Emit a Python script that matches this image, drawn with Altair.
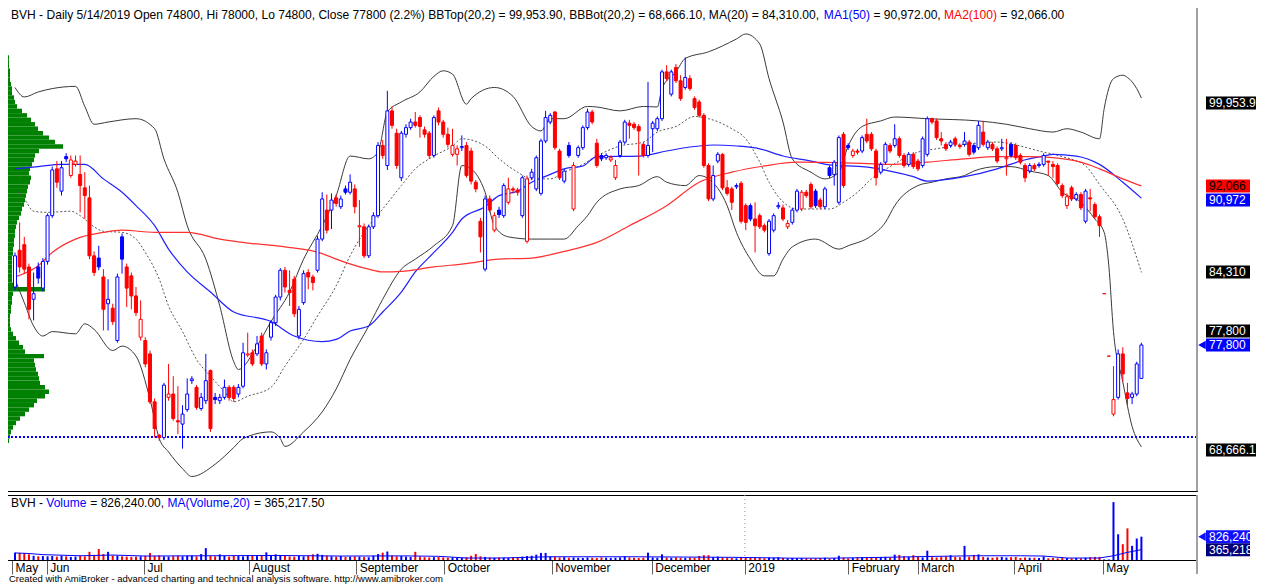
import altair as alt
import pandas as pd

# ---------------- price data (thousand VND), one bar per trading day ----------------
open_ = [83.0, 86.3, 86.8, 84.8, 81.9, 84.8, 82.9, 85.3, 89.4, 93.6,
         91.6, 94.7, 93.0, 94.0, 93.1, 91.9, 91.0, 85.8, 85.6, 83.9,
         81.5, 81.1, 78.2, 87.5, 84.8, 84.0, 82.2, 78.5, 78.2, 77.0,
         72.7, 69.7, 69.5, 73.1, 73.4, 71.0, 70.7, 72.0, 74.6, 74.0,
         72.1, 72.8, 75.5, 73.1, 72.8, 73.1, 74.0, 74.0, 73.4, 74.1,
         76.9, 77.1, 77.0, 78.6, 76.1, 78.5, 79.8, 82.1, 84.5, 82.7,
         83.7, 78.6, 81.6, 84.3, 83.9, 84.5, 87.3, 89.9, 89.9, 91.0,
         90.2, 91.8, 91.5, 91.8, 88.4, 88.4, 85.8, 88.4, 89.4, 95.7,
         93.9, 98.8, 96.8, 92.8, 96.7, 97.3, 97.8, 98.2, 97.1, 96.8,
         94.8, 98.8, 97.8, 96.7, 94.9, 94.9, 95.5, 95.7, 95.2, 92.4,
         88.9, 84.6, 90.9, 88.1, 89.9, 89.4, 90.6, 91.8, 91.7, 89.4,
         87.1, 92.8, 91.8, 91.4, 96.1, 97.8, 98.7, 95.2, 92.5, 95.7,
         90.0, 94.8, 95.5, 97.3, 98.7, 95.9, 94.8, 94.6, 94.4, 92.8,
         94.8, 96.0, 97.7, 97.6, 97.4, 95.8, 94.8, 97.2, 97.2, 98.1,
         102.3, 100.3, 102.7, 101.5, 100.9, 101.7, 99.9, 99.6, 98.4, 93.9,
         90.9, 94.3, 94.9, 91.9, 91.8, 92.0, 92.3, 90.3, 90.3, 89.1,
         89.4, 88.5, 86.0, 88.1, 90.2, 90.1, 88.4, 88.8, 89.9, 90.0,
         91.5, 92.2, 91.6, 90.8, 90.2, 93.7, 93.1, 90.6, 96.7, 95.7,
         94.8, 95.2, 95.2, 96.7, 96.7, 95.2, 93.3, 94.2, 95.7, 95.7,
         96.3, 94.8, 94.0, 94.9, 94.3, 93.9, 94.9, 98.1, 97.9, 96.3,
         95.8, 95.7, 96.3, 95.7, 95.8, 96.0, 95.7, 95.5, 96.9, 95.5,
         95.8, 95.4, 95.4, 94.5, 95.8, 95.7, 94.8, 93.9, 93.4, 93.9,
         93.9, 94.0, 94.3, 94.0, 93.9, 92.1, 90.3, 91.9, 90.9, 91.3,
         88.9, 91.0, 90.4, 89.3, 82.4, 76.8, 71.6, 73.1, 77.0, 73.5,
         73.1, 73.4, 74.8]
high = [86.1, 88.8, 87.5, 85.1, 84.3, 85.2, 85.6, 89.6, 93.8, 94.3,
        94.3, 95.0, 94.8, 94.8, 94.8, 93.3, 92.1, 86.2, 86.7, 84.6,
        83.7, 81.5, 84.2, 87.8, 85.1, 84.3, 83.0, 81.8, 78.5, 77.3,
        73.0, 69.8, 74.4, 76.1, 75.0, 74.1, 72.4, 74.8, 75.0, 74.2,
        73.5, 77.0, 75.6, 73.5, 73.4, 74.7, 74.2, 74.2, 74.3, 78.0,
        78.9, 77.4, 78.6, 78.9, 77.4, 80.0, 82.3, 84.7, 84.8, 84.5,
        84.0, 81.3, 84.5, 84.6, 84.1, 87.6, 91.5, 91.3, 91.4, 91.3,
        91.2, 92.1, 93.1, 92.2, 90.8, 88.7, 88.6, 89.7, 96.0, 96.2,
        100.6, 99.2, 97.2, 97.0, 97.6, 98.1, 98.7, 98.4, 97.4, 97.0,
        98.4, 99.1, 98.0, 97.3, 97.2, 95.7, 96.6, 96.0, 95.5, 92.6,
        89.2, 91.2, 91.2, 89.7, 90.2, 92.3, 92.8, 92.0, 91.9, 93.0,
        93.0, 93.6, 94.8, 96.3, 98.8, 98.6, 98.8, 95.4, 93.6, 96.0,
        94.2, 95.7, 97.5, 99.0, 98.9, 96.3, 95.0, 95.0, 94.8, 94.4,
        96.2, 98.0, 98.0, 97.8, 97.6, 96.0, 101.4, 97.9, 98.3, 102.5,
        102.9, 102.5, 103.0, 102.0, 103.6, 102.0, 100.1, 99.8, 98.6, 94.1,
        93.9, 95.1, 95.0, 92.6, 92.0, 92.3, 92.5, 90.5, 90.5, 90.6,
        89.6, 88.7, 89.1, 89.6, 90.6, 90.4, 89.0, 90.1, 91.8, 91.7,
        91.7, 92.4, 91.8, 91.0, 92.0, 93.9, 94.4, 96.6, 96.9, 95.9,
        95.4, 95.4, 96.6, 98.1, 96.9, 95.4, 94.2, 96.0, 95.9, 97.6,
        96.5, 95.0, 95.1, 95.1, 94.5, 96.5, 98.3, 98.2, 98.1, 96.9,
        96.0, 96.2, 96.5, 95.9, 96.9, 96.2, 95.9, 97.9, 97.9, 96.2,
        96.0, 95.6, 96.3, 96.3, 96.0, 95.9, 95.0, 94.1, 94.1, 94.1,
        94.2, 95.0, 94.3, 94.3, 94.1, 92.3, 91.4, 92.1, 91.5, 91.5,
        91.8, 91.8, 90.6, 89.5, 82.4, 76.8, 75.9, 77.4, 77.6, 74.4,
        73.6, 76.3, 78.0]
low = [82.7, 84.3, 84.2, 80.1, 80.0, 83.3, 82.6, 85.0, 89.2, 91.9,
       91.2, 94.2, 92.8, 93.8, 89.7, 89.1, 85.5, 84.0, 84.5, 79.1,
       79.1, 79.6, 78.0, 84.2, 81.2, 81.0, 80.4, 78.2, 75.8, 72.5,
       69.5, 69.2, 69.3, 72.8, 71.0, 69.8, 68.5, 71.8, 74.3, 72.0,
       71.9, 72.5, 70.0, 72.5, 72.5, 72.9, 72.8, 72.7, 73.1, 73.9,
       76.7, 75.9, 76.8, 75.9, 75.6, 78.2, 79.5, 81.8, 82.5, 81.3,
       80.3, 78.3, 81.4, 82.8, 82.7, 84.3, 87.1, 87.8, 88.2, 90.2,
       90.0, 91.3, 91.3, 89.6, 86.6, 85.6, 85.6, 88.2, 89.2, 94.5,
       93.5, 97.2, 93.6, 92.5, 96.4, 97.1, 97.3, 96.4, 96.4, 94.5,
       94.6, 97.5, 96.4, 95.5, 94.7, 93.9, 95.2, 92.8, 92.2, 91.5,
       86.1, 84.4, 89.7, 87.9, 89.2, 89.2, 90.4, 91.4, 91.2, 89.2,
       86.9, 92.6, 91.6, 91.2, 95.9, 97.6, 95.3, 92.6, 92.3, 94.6,
       89.8, 94.6, 95.3, 97.1, 97.6, 93.7, 94.3, 94.4, 94.2, 92.6,
       94.6, 95.8, 96.3, 97.1, 93.0, 94.6, 94.6, 95.1, 97.0, 97.9,
       101.5, 100.1, 101.3, 99.7, 100.7, 100.6, 98.9, 98.2, 93.7, 90.7,
       90.7, 94.1, 91.7, 91.2, 89.9, 91.8, 88.7, 88.1, 88.9, 86.1,
       88.2, 87.9, 85.8, 87.9, 90.0, 88.9, 88.2, 88.6, 89.7, 89.8,
       91.0, 90.0, 90.1, 90.0, 90.0, 92.8, 92.1, 90.4, 91.9, 95.3,
       94.6, 94.9, 95.0, 95.9, 95.2, 92.1, 93.1, 94.0, 95.0, 95.5,
       94.6, 93.7, 93.8, 93.6, 93.4, 93.7, 94.7, 97.6, 96.2, 95.7,
       95.2, 95.5, 95.6, 95.4, 95.6, 94.7, 94.9, 95.3, 95.6, 95.3,
       95.2, 94.1, 95.2, 93.0, 94.6, 94.4, 94.0, 92.4, 93.2, 93.4,
       93.7, 93.8, 93.0, 92.8, 92.1, 91.0, 90.0, 90.7, 90.7, 89.9,
       88.7, 89.8, 89.1, 87.5, 82.4, 76.8, 71.4, 72.9, 74.5, 72.4,
       72.5, 73.2, 74.8]
close = [85.8, 84.8, 84.6, 81.0, 82.4, 83.8, 85.3, 89.4, 93.5, 92.4,
         93.7, 94.5, 94.4, 94.3, 92.1, 91.2, 85.8, 84.3, 84.8, 81.0,
         81.9, 79.9, 83.9, 85.5, 82.9, 82.2, 80.7, 80.1, 76.1, 72.7,
         70.3, 69.5, 74.2, 73.4, 71.2, 70.9, 71.6, 73.4, 74.75, 72.2,
         73.1, 74.6, 70.3, 72.9, 73.1, 74.0, 73.1, 73.0, 74.0, 77.1,
         77.0, 76.1, 77.9, 76.1, 77.1, 79.8, 82.1, 84.5, 83.0, 82.5,
         80.6, 81.0, 84.2, 83.9, 83.4, 87.3, 90.9, 88.1, 90.8, 90.5,
         90.9, 91.5, 92.4, 90.2, 88.5, 85.8, 88.4, 89.4, 95.7, 94.8,
         98.8, 97.5, 93.9, 96.8, 97.3, 97.8, 97.5, 97.4, 96.7, 94.8,
         98.2, 97.8, 96.7, 95.8, 95.7, 95.4, 95.6, 93.0, 92.5, 91.8,
         87.5, 90.9, 89.9, 89.4, 89.5, 92.1, 91.8, 91.7, 91.5, 92.8,
         92.7, 93.3, 94.6, 96.1, 98.2, 98.4, 95.5, 92.8, 93.4, 94.8,
         93.9, 95.5, 97.3, 98.7, 97.8, 93.9, 94.5, 94.8, 94.6, 93.9,
         96.0, 97.8, 97.5, 97.3, 97.0, 94.8, 95.7, 97.7, 98.1, 102.3,
         101.7, 102.3, 101.5, 99.9, 101.8, 100.8, 99.1, 98.4, 93.9, 90.9,
         93.0, 94.9, 91.9, 91.4, 90.6, 92.1, 88.9, 88.8, 89.1, 88.5,
         88.4, 88.1, 88.9, 89.4, 90.3, 89.1, 88.7, 89.9, 91.6, 91.5,
         91.2, 90.2, 90.3, 90.2, 91.8, 93.0, 94.2, 96.4, 92.1, 95.5,
         95.2, 95.1, 96.4, 96.1, 95.4, 92.8, 94.0, 95.8, 95.2, 96.3,
         94.8, 93.9, 94.9, 93.8, 93.6, 96.3, 98.1, 97.8, 96.4, 96.1,
         95.4, 96.0, 95.8, 95.6, 96.1, 94.9, 95.1, 97.5, 95.8, 96.0,
         95.4, 94.3, 95.5, 94.6, 94.8, 94.6, 94.2, 92.8, 93.9, 93.6,
         94.0, 94.8, 94.2, 93.8, 92.3, 91.2, 91.1, 90.9, 91.3, 90.1,
         91.6, 90.9, 89.3, 88.5, 82.4, 76.8, 72.9, 77.0, 75.2, 73.0,
         73.4, 76.1, 77.8]
# volume, thousand shares
volume = [260, 250, 240, 200, 150, 130, 140, 130, 140, 120,
          150, 130, 110, 120, 150, 130, 290, 180, 390, 210,
          290, 160, 150, 130, 120, 110, 120, 130, 150, 250,
          140, 160, 130, 120, 140, 150, 130, 150, 160, 130,
          210, 420, 150, 130, 200, 150, 120, 150, 140, 130,
          160, 150, 140, 160, 270, 180, 200, 160, 150, 130,
          120, 140, 130, 150, 200, 220, 180, 150, 130, 120,
          140, 110, 120, 130, 120, 110, 100, 150, 210, 260,
          300, 160, 130, 140, 120, 110, 290, 120, 100, 90,
          100, 110, 90, 80, 90, 80, 70, 100, 150, 210,
          130, 110, 90, 80, 90, 80, 70, 90, 80, 120,
          140, 150, 190, 250, 250, 120, 110, 90, 100, 80,
          90, 80, 70, 90, 80, 70, 90, 80, 70, 80,
          90, 130, 90, 80, 70, 80, 260, 90, 80, 200,
          90, 80, 90, 80, 70, 90, 80, 140, 170, 170,
          100, 120, 90, 80, 70, 60, 90, 80, 70, 90,
          80, 60, 90, 80, 100, 70, 60, 70, 60, 70,
          60, 50, 60, 70, 80, 60, 70, 150, 80, 60,
          70, 90, 100, 80, 70, 90, 100, 110, 90, 190,
          180, 130, 110, 170, 120, 90, 330, 100, 90, 120,
          130, 170, 110, 100, 500, 120, 180, 200, 110, 90,
          80, 100, 110, 90, 100, 110, 70, 90, 80, 80,
          70, 130, 60, 70, 60, 80, 70, 60, 70, 60,
          80, 100, 110, 110, 20, 20, 2050, 910, 560, 1120,
          500, 760, 826.24]

# ---------------- indicator lines ----------------
bb_top_i = [0, 2, 5, 8, 13, 15, 17, 20, 26, 30, 32, 35, 37, 41, 44, 47, 48, 52, 55, 59,
            62, 66, 69, 72, 76, 78, 80, 83, 87, 90, 92, 94, 97, 98, 103, 107, 111, 113, 115, 118,
            123, 125, 130, 135, 138, 139, 142, 144, 149, 155, 157, 160, 162, 165, 167, 171, 174, 177, 179, 182,
            186, 189, 196, 207, 213, 218, 223, 226, 229, 233, 234, 236, 238, 239, 241, 242]
bb_top_v = [100.9, 100.05, 100.5, 100.8, 101.0, 99.2, 97.6, 97.8, 98.1, 97.2, 94.5, 91.5, 88.5, 85.5, 81.3, 76.3, 75.6, 77.7, 79.9, 82.55,
            85.5, 88.5, 91.2, 94.75, 94.5, 95.1, 98.7, 99.6, 100.5, 101.9, 102.4, 102.1, 99.4, 99.9, 100.9, 100.1, 97.4, 97.0, 98.1, 98.1,
            99.2, 99.15, 98.8, 99.2, 99.15, 100.8, 102.3, 103.5, 104.1, 105.25, 105.7, 104.8, 101.7, 97.8, 94.5, 93.3, 92.7, 93.3, 95.65, 97.4,
            97.9, 98.25, 98.1, 97.9, 97.6, 97.2, 96.9, 97.2, 96.9, 96.3, 99.0, 101.7, 102.0, 101.8, 100.8, 99.9539]
bb_bot_i = [0, 2, 4, 6, 8, 13, 15, 17, 21, 23, 26, 29, 31, 33, 36, 38, 43, 47, 49, 55,
            57, 58, 62, 66, 69, 72, 76, 79, 83, 86, 90, 94, 96, 98, 101, 103, 106, 111, 115, 118,
            121, 123, 125, 130, 134, 138, 140, 144, 147, 149, 153, 155, 158, 161, 163, 165, 167, 172, 177, 179,
            184, 187, 189, 194, 197, 200, 204, 206, 211, 214, 218, 222, 225, 229, 232, 234, 235, 236, 238, 240, 242]
bb_bot_v = [83.7, 81.6, 79.5, 78.6, 79.0, 78.8, 79.7, 79.2, 77.3, 77.7, 76.8, 72.95, 69.4, 68.2, 66.7, 66.0, 67.1, 68.6, 69.4, 70.0,
            69.4, 68.7, 70.0, 71.8, 73.85, 76.5, 79.5, 81.9, 84.6, 85.5, 86.7, 88.5, 93.9, 93.6, 91.5, 88.5, 87.5, 87.3, 87.3, 87.3,
            88.5, 89.4, 90.6, 91.8, 92.1, 92.9, 92.4, 92.1, 93.0, 92.7, 90.3, 87.9, 85.5, 84.0, 84.0, 85.5, 86.6, 87.3, 86.4, 86.7,
            87.6, 88.8, 90.3, 92.1, 92.4, 92.7, 93.0, 93.4, 93.8, 93.8, 93.4, 93.0, 91.5, 90.6, 89.1, 87.9, 84.9, 79.0, 74.5, 70.5, 68.6661]
ma20_i = [0, 2, 4, 7, 12, 14, 17, 19, 23, 26, 28, 31, 33, 36, 39, 42, 45, 47, 50, 55,
          58, 62, 65, 69, 72, 76, 79, 83, 86, 90, 94, 96, 101, 104, 108, 111, 115, 118, 122, 125,
          130, 135, 138, 142, 146, 149, 154, 157, 160, 162, 166, 168, 172, 175, 178, 181, 184, 188, 194, 198,
          204, 211, 216, 220, 225, 230, 233, 238, 242]
ma20_v = [91.8, 90.9, 89.8, 89.7, 89.8, 89.4, 88.4, 88.0, 87.9, 87.3, 86.1, 83.7, 81.3, 79.0, 76.5, 75.0, 73.6, 72.7, 73.2, 74.0,
          75.9, 78.3, 80.4, 83.1, 85.8, 88.5, 90.0, 92.1, 93.6, 94.75, 95.65, 96.3, 95.65, 94.5, 93.3, 92.7, 92.7, 93.3, 94.0, 94.75,
          95.65, 96.0, 96.9, 97.4, 98.3, 98.1, 97.2, 96.3, 94.2, 92.4, 90.3, 90.0, 90.0, 90.0, 90.6, 91.5, 92.7, 93.8, 95.1, 95.4,
          95.8, 96.0, 95.65, 95.2, 94.7, 93.86, 92.2, 89.1, 84.31]
ma50_i = [0, 5, 10, 15, 19, 23, 26, 30, 33, 37, 42, 47, 55, 60, 66, 69, 72, 76, 79, 83,
          86, 90, 94, 96, 101, 104, 108, 111, 115, 118, 122, 125, 134, 140, 145, 150, 155, 160, 165, 171,
          175, 179, 182, 188, 193, 196, 204, 211, 216, 221, 223, 228, 233, 238, 242]
ma50_v = [93.6, 93.8, 94.0, 94.0, 92.7, 91.5, 90.3, 88.5, 86.4, 84.35, 82.55, 80.76, 79.9, 78.6, 78.1, 78.3, 79.05, 79.5, 80.76, 82.55,
          84.35, 86.1, 87.9, 89.1, 90.2, 91.2, 91.6, 92.4, 93.1, 93.6, 93.86, 94.7, 94.75, 95.2, 95.56, 95.74, 95.65, 95.4, 94.75, 94.3,
          93.95, 93.86, 93.8, 93.4, 92.9, 92.5, 92.9, 93.6, 94.3, 94.75, 94.9, 94.75, 94.0, 92.4, 90.972]
ma100_i = [0, 5, 8, 13, 19, 23, 30, 37, 44, 51, 58, 66, 69, 76, 79, 83, 90, 97, 104, 111,
           118, 125, 132, 140, 147, 154, 161, 168, 182, 189, 196, 204, 211, 218, 223, 229, 233, 238, 242]
ma100_v = [83.9, 84.9, 86.1, 87.3, 87.9, 88.1, 87.9, 87.9, 87.3, 86.9, 86.6, 86.0, 85.5, 84.6, 84.35, 84.4, 84.8, 85.1, 85.5, 85.6,
           86.2, 87.0, 88.5, 90.3, 92.4, 93.3, 93.86, 94.2, 94.1, 94.0, 94.2, 94.5, 94.7, 94.7, 94.6, 94.2, 93.6, 92.7, 92.066]
volma_i = [0, 3, 6, 14, 21, 28, 42, 56, 70, 84, 91, 97, 104, 115, 133, 154, 167, 175, 187, 194,
           206, 216, 221, 226, 233, 236, 239, 242]
volma_v = [250, 230, 190, 150, 175, 140, 150, 160, 140, 145, 130, 70, 70, 115, 115, 95, 65, 65, 95, 118,
           150, 150, 140, 70, 70, 150, 270, 365.2175]
support_level = [69.54]

# volume-at-price profile (price level, thousand shares)
vap_price = [104.0, 103.6, 103.2, 102.8, 102.4, 102.0, 101.6, 101.2, 100.8, 100.4,
             100.0, 99.6, 99.2, 98.8, 98.4, 98.0, 97.6, 97.2, 96.8, 96.4,
             96.0, 95.6, 95.2, 94.8, 94.4, 94.0, 93.6, 93.2, 92.8, 92.4,
             92.0, 91.6, 91.2, 90.8, 90.4, 90.0, 89.6, 89.2, 88.8, 88.4,
             88.0, 87.6, 87.2, 86.8, 86.4, 86.0, 85.6, 85.2, 84.8, 84.4,
             84.0, 83.6, 83.2, 82.8, 82.4, 82.0, 81.6, 81.2, 80.8, 80.4,
             80.0, 79.6, 79.2, 78.8, 78.4, 78.0, 77.6, 77.2, 76.8, 76.4,
             76.0, 75.6, 75.2, 74.8, 74.4, 74.0, 73.6, 73.2, 72.8, 72.4,
             72.0, 71.6, 71.2, 70.8, 70.4, 70.0, 69.6, 69.2, 68.8, 68.4]
vap_vol = [100, 200, 200, 200, 300, 300, 300, 400, 500, 500,
           700, 800, 1000, 1500, 2000, 2400, 2800, 3100, 3600, 4200,
           4800, 5600, 3200, 2800, 2700, 2500, 2300, 2200, 2400, 2300,
           2100, 2000, 1900, 1800, 1700, 1500, 1400, 1200, 1000, 900,
           800, 800, 700, 700, 600, 600, 500, 500, 500, 500,
           500, 500, 600, 3800, 600, 500, 500, 400, 400, 300,
           300, 300, 400, 600, 900, 1200, 1600, 1800, 3700, 2700,
           2800, 2900, 3100, 3200, 3300, 3800, 4200, 3800, 3000, 2700,
           2200, 1800, 1300, 900, 600, 400, 300, 200, 100, 100]

month_pos = [-0.64, 6.8, 27.7, 50.3, 73.3, 92.2, 115.3, 136.8, 156.8, 179.0, 193.9, 214.7, 233.7]
month_name = ['May', 'Jun', 'Jul', 'August', 'September', 'October', 'November',
              'December', '2019', 'February', 'March', 'April', 'May']

price_lbl_text = ['99,953.9', '92,066', '90,972', '84,310', '77,800', '77,800', '68,666.1']
price_lbl_pos = [99.51, 92.06, 90.81, 84.35, 79.05, 77.8, 68.38]
vol_lbl_text = ['826,240', '365,218']
vol_lbl_pos = [826.24, 365.2]

# ---------------- styling ----------------
FONT = 'Liberation Sans'
BLUE = '#0000FF'
RED = '#FF0000'
W = 1190
H_PRICE = 484
H_VOL = 65
xscale = alt.Scale(domain=[-0.64, 252.87], nice=False, zero=False)
yscale = alt.Scale(domain=[64.70, 108.12], nice=False, zero=False)
vscale = alt.Scale(domain=[0, 2301], nice=False, zero=True)
PX_PRICE = (108.12 - 64.70) / H_PRICE
PX_VOL = 2301 / H_VOL

AW = {' ': 278, '!': 278, '%': 889, '(': 333, ')': 333, ',': 278, '-': 333, '.': 278, '/': 278, ':': 278,
      '=': 584, 'A': 667, 'B': 667, 'C': 722, 'D': 722, 'E': 667, 'H': 722, 'I': 278, 'L': 556, 'M': 833,
      'O': 778, 'T': 611, 'V': 667, 'a': 556, 'b': 556, 'c': 500, 'd': 556, 'e': 556, 'f': 278, 'g': 556,
      'h': 556, 'i': 222, 'k': 500, 'l': 222, 'm': 833, 'n': 556, 'o': 556, 'p': 556, 'r': 333, 's': 500,
      't': 278, 'u': 556, 'v': 500, 'w': 722, 'y': 500, 'z': 500}


def tw(s, fs):
    return sum(AW.get(ch, 556) for ch in s) * fs / 1000.0


def text_layers(segments, x0, y0, fs):
    out = []
    x = x0
    for s, colr in segments:
        lead = len(s) - len(s.lstrip(' '))
        t = s.strip(' ')
        if t:
            out.append(alt.Chart(pd.DataFrame({'t': [t]})).mark_text(
                align='left', baseline='middle', font=FONT, fontSize=fs, color=colr
            ).encode(x=alt.value(x + tw(' ' * lead, fs)), y=alt.value(y0), text='t:N'))
        x += tw(s, fs)
    return out


def box_layers(texts, poss, bgs, fgs, widths, arrows, ys, half):
    out = []
    xl = 1199
    for t, p, bg, fg, w, arr in zip(texts, poss, bgs, fgs, widths, arrows):
        d = pd.DataFrame({'p': [p], 'top': [p + half], 'bot': [p - half], 't': [t]})
        out.append(alt.Chart(d).mark_rect(color=bg).encode(
            x=alt.value(xl), x2=alt.value(xl + w),
            y=alt.Y('top:Q', scale=ys, axis=None), y2='bot:Q'))
        out.append(alt.Chart(d).mark_text(align='left', baseline='middle', font=FONT, fontSize=12, color=fg).encode(
            x=alt.value(xl + 3), y=alt.Y('p:Q', scale=ys, axis=None), text='t:N'))
        if arr:
            out.append(alt.Chart(d).mark_point(shape='triangle-left', filled=True, size=75, color=bg, opacity=1).encode(
                x=alt.value(xl - 4), y=alt.Y('p:Q', scale=ys, axis=None)))
    return out


# ---------------- frames ----------------
n = len(close)
prev = [open_[0]] + close[:-1]
col = [BLUE if c >= p else RED for c, p in zip(close, prev)]
fillc = ['#FFFFFF' if c >= o else k for c, o, k in zip(close, open_, col)]
vcol = [BLUE if c >= o else RED for c, o in zip(close, open_)]
df = pd.DataFrame({'i': list(range(n)), 'o': open_, 'h': high, 'l': low, 'c': close,
                   'v': volume, 'col': col, 'fillc': fillc, 'vcol': vcol})


def ldf(ii, vv):
    return pd.DataFrame({'i': ii, 'p': vv})


X = alt.X('i:Q', scale=xscale, axis=None)


def Yp(f):
    return alt.Y(f + ':Q', scale=yscale, axis=None)


# ---------------- price panel ----------------
vap_df = pd.DataFrame({'price': vap_price, 'vap': vap_vol})
profile = alt.Chart(vap_df).transform_calculate(
    lo='datum.price - 0.2', hi='datum.price + 0.2', zero='0'
).mark_rect(color='#008000').encode(
    x=alt.X('zero:Q', scale=alt.Scale(domain=[0, 119000], nice=False), axis=None),
    x2='vap:Q', y=Yp('lo'), y2='hi:Q')

bbt = alt.Chart(ldf(bb_top_i, bb_top_v)).mark_line(color='#3a3a3a', strokeWidth=1, interpolate='monotone').encode(x=X, y=Yp('p'))
bbb = alt.Chart(ldf(bb_bot_i, bb_bot_v)).mark_line(color='#3a3a3a', strokeWidth=1, interpolate='monotone').encode(x=X, y=Yp('p'))
ma20 = alt.Chart(ldf(ma20_i, ma20_v)).mark_line(color='#555555', strokeWidth=1, strokeDash=[2, 2], interpolate='monotone').encode(x=X, y=Yp('p'))
ma50 = alt.Chart(ldf(ma50_i, ma50_v)).mark_line(color='#2020FF', strokeWidth=1.2, interpolate='monotone').encode(x=X, y=Yp('p'))
ma100 = alt.Chart(ldf(ma100_i, ma100_v)).mark_line(color='#FF3030', strokeWidth=1.2, interpolate='monotone').encode(x=X, y=Yp('p'))
supp = alt.Chart(pd.DataFrame({'p': support_level})).mark_rule(color=BLUE, strokeWidth=2, strokeDash=[2, 2]).encode(y=Yp('p'))

wick = alt.Chart(df).mark_rule(strokeWidth=1).encode(
    x=X, y=Yp('l'), y2='h:Q', color=alt.Color('col:N', scale=None))
body = alt.Chart(df).mark_bar(size=3, strokeWidth=1).encode(
    x=X, y=Yp('o'), y2='c:Q', fill=alt.Fill('fillc:N', scale=None), stroke=alt.Stroke('col:N', scale=None))

title_segs = [("BVH - Daily 5/14/2019 Open 74800, Hi 78000, Lo 74800, Close 77800 (2.2%) BBTop(20,2) = 99,953.90, "
               "BBBot(20,2) = 68,666.10, MA(20) = 84,310.00, ", 'black'),
              ("MA1(50)", BLUE), (" = 90,972.00, ", 'black'), ("MA2(100)", RED), (" = 92,066.00", 'black')]
title_lay = text_layers(title_segs, 4, 8, 12.05)

price_boxes = box_layers(price_lbl_text, price_lbl_pos,
                         ['#000000', RED, BLUE, '#000000', '#000000', BLUE, '#000000'],
                         ['white', 'black', 'white', 'white', 'white', 'white', 'white'],
                         [50, 44, 44, 44, 44, 44, 50],
                         [False, False, False, False, False, True, False],
                         yscale, 6.5 * PX_PRICE)
right_edge_p = alt.Chart(pd.DataFrame({'a': [0]})).mark_rule(color='#A0A0A0', strokeWidth=2).encode(
    x=alt.value(W), y=alt.value(0), y2=alt.value(H_PRICE))

main = alt.layer(bbt, bbb, ma20, ma50, ma100, supp, wick, body, *title_lay, *price_boxes, right_edge_p)
price_panel = alt.layer(profile, main).resolve_scale(x='independent').properties(width=W, height=H_PRICE)

# ---------------- volume panel ----------------
names_js = '[' + ','.join("'%s'" % m for m in month_name) + ']'
pos_js = '[' + ','.join(repr(p) for p in month_pos) + ']'
X_vol = alt.X('i:Q', scale=xscale, axis=alt.Axis(
    values=month_pos, labelExpr=names_js + '[indexof(' + pos_js + ', datum.value)]',
    title=None, grid=False, tickSize=14, tickColor='#606060', tickWidth=1,
    domainColor='#000000', labelAlign='left', labelBaseline='top', labelPadding=-12, labelOffset=3,
    labelFont=FONT, labelFontSize=12, labelColor='#000000', labelOverlap=False, labelFlush=False, labelBound=False))

vbars = alt.Chart(df).mark_bar(size=2).encode(
    x=X_vol, y=alt.Y('v:Q', scale=vscale, axis=None), color=alt.Color('vcol:N', scale=None))
vma = alt.Chart(ldf(volma_i, volma_v)).mark_line(color=BLUE, strokeWidth=1).encode(
    x=X_vol, y=alt.Y('p:Q', scale=vscale, axis=None))
yearline = alt.Chart(pd.DataFrame({'i': [month_pos[8]]})).mark_rule(color='#909090', strokeDash=[1, 3]).encode(x=X_vol)

vol_segs = [("BVH - ", 'black'), ("Volume", BLUE), (" = 826,240.00, ", 'black'),
            ("MA(Volume,20)", BLUE), (" = 365,217.50", 'black')]
vol_title = text_layers(vol_segs, 4, 8, 12)
vol_boxes = box_layers(vol_lbl_text, vol_lbl_pos, ['#1010FF', '#00007A'], ['white', 'white'],
                       [44, 44], [True, False], vscale, 6.5 * PX_VOL)
footer = alt.Chart(pd.DataFrame({'t': ['Created with AmiBroker - advanced charting and technical analysis software. http://www.amibroker.com']})).mark_text(
    align='left', baseline='middle', font=FONT, fontSize=9.5, color='#000000').encode(
    x=alt.value(2), y=alt.value(H_VOL + 19), text='t:N')
right_edge_v = alt.Chart(pd.DataFrame({'a': [0]})).mark_rule(color='#A0A0A0', strokeWidth=2).encode(
    x=alt.value(W), y=alt.value(0), y2=alt.value(H_VOL + 14))

vol_panel = alt.layer(yearline, vbars, vma, *vol_title, *vol_boxes, footer, right_edge_v).properties(width=W, height=H_VOL)

chart = alt.vconcat(price_panel, vol_panel, spacing=0).resolve_scale(x='independent').properties(
    padding={'left': -3, 'top': -3, 'right': 0, 'bottom': 0}).configure_view(stroke='#000000', strokeWidth=1)

chart.save("out.html", embed_options={"renderer": "svg", "actions": False})
